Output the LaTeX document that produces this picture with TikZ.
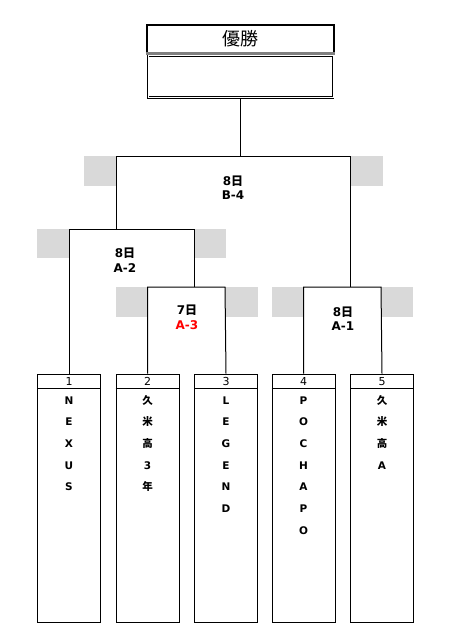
\documentclass[tikz,border=0pt]{standalone}
\usepackage{fontspec}
\setmainfont{DejaVu Sans}
\newfontfamily\cjk{Noto Sans CJK JP}
\newfontfamily\cjkb{Noto Sans CJK JP}[UprightFont=* Bold]
\begin{document}
\begin{tikzpicture}[x=1pt,y=-1pt,
  pad/.style={fill=padgray,draw=none},
  wire/.style={line width=1pt,black},
  teambox/.style={draw,line width=1pt,minimum width=63pt,minimum height=248pt,inner sep=0pt},
  lbl/.style={font=\fontsize{12}{12}\selectfont\bfseries,inner sep=0pt},
  num/.style={font=\fontsize{11}{12}\selectfont,inner sep=0pt},
  ch/.style={font=\fontsize{10.5}{12}\selectfont\bfseries,inner sep=0pt,anchor=base}]
\definecolor{padgray}{HTML}{D9D9D9}
\useasboundingbox[fill=white] (0,0) rectangle (450,640);
% gray pads
\fill[pad] (84,156) rectangle (116,186);
\fill[pad] (350,156) rectangle (383,186);
\fill[pad] (37,229) rectangle (70,258);
\fill[pad] (194,229) rectangle (226,258);
\fill[pad] (116,287) rectangle (147,317);
\fill[pad] (225,287) rectangle (258,317);
\fill[pad] (272,287) rectangle (303,317);
\fill[pad] (381,287) rectangle (413,317);
% winner box
\node[draw,line width=2pt,minimum width=187pt,minimum height=28pt,inner sep=0pt,
  font=\fontsize{18}{18}\selectfont\cjk] (wh) at (240,38.5) {優勝};
\node[draw,double,double distance=1pt,line width=0.6pt,minimum width=185pt,minimum height=42pt,inner sep=0pt] (w) at (240.5,76.5) {};
\draw[line width=2.5pt,gray] (wh.south west) -- (wh.south east);
% teams
\foreach \i/\x in {1/69,2/147.5,3/226,4/303.5,5/382}{
  \node[teambox] (t\i) at (\x,498) {};
  \draw[wire] ([yshift=-15pt]t\i.north west) -- ([yshift=-15pt]t\i.north east);
  \node[num] (n\i) at (\x,381.5) {\i};
}
\foreach \c [count=\k] in {N,E,X,U,S}{\node[ch] at (69,404+21.7*\k-21.7) {\c};}
\foreach \c [count=\k] in {{\cjkb 久},{\cjkb 米},{\cjkb 高},3,{\cjkb 年}}{\node[ch] at (147.5,404+21.7*\k-21.7) {\c};}
\foreach \c [count=\k] in {L,E,G,E,N,D}{\node[ch] at (226,404+21.7*\k-21.7) {\c};}
\foreach \c [count=\k] in {P,O,C,H,A,P,O}{\node[ch] at (303.5,404+21.7*\k-21.7) {\c};}
\foreach \c [count=\k] in {{\cjkb 久},{\cjkb 米},{\cjkb 高},A}{\node[ch] at (382,404+21.7*\k-21.7) {\c};}
% bracket corners
\coordinate (b4l) at (116,156); \coordinate (b4r) at (350,156);
\coordinate (a2l) at (70,229); \coordinate (a2r) at (194,229);
\coordinate (a3l) at (147,287); \coordinate (a3r) at (225,287);
\coordinate (a1l) at (303,287); \coordinate (a1r) at (381,287);
% connectors
\draw[wire] (w.south) -- (w.south |- b4l);
\draw[wire] (b4l |- a2l) -- (b4l) -- (b4r) -- (b4r |- a1l);
\draw[wire] (t1.north) -- (t1.north |- a2l) -- (a2r) -- (a2r |- a3l);
\draw[wire] (t2.north) -- (t2.north |- a3l) -- (a3r) -- (t3.north);
\draw[wire] (t4.north) -- (t4.north |- a1l) -- (a1r) -- (t5.north);
% match labels
\node[lbl] (m4a) at (233,181) {8{\cjkb 日}}; \node[lbl] (m4b) at (233,195) {B-4};
\node[lbl] (m2a) at (125,253) {8{\cjkb 日}}; \node[lbl] (m2b) at (125,268) {A-2};
\node[lbl] (m3a) at (187,310) {7{\cjkb 日}}; \node[lbl,text=red] (m3b) at (187,325) {A-3};
\node[lbl] (m1a) at (343,312) {8{\cjkb 日}}; \node[lbl] (m1b) at (343,326) {A-1};
\end{tikzpicture}
\end{document}
